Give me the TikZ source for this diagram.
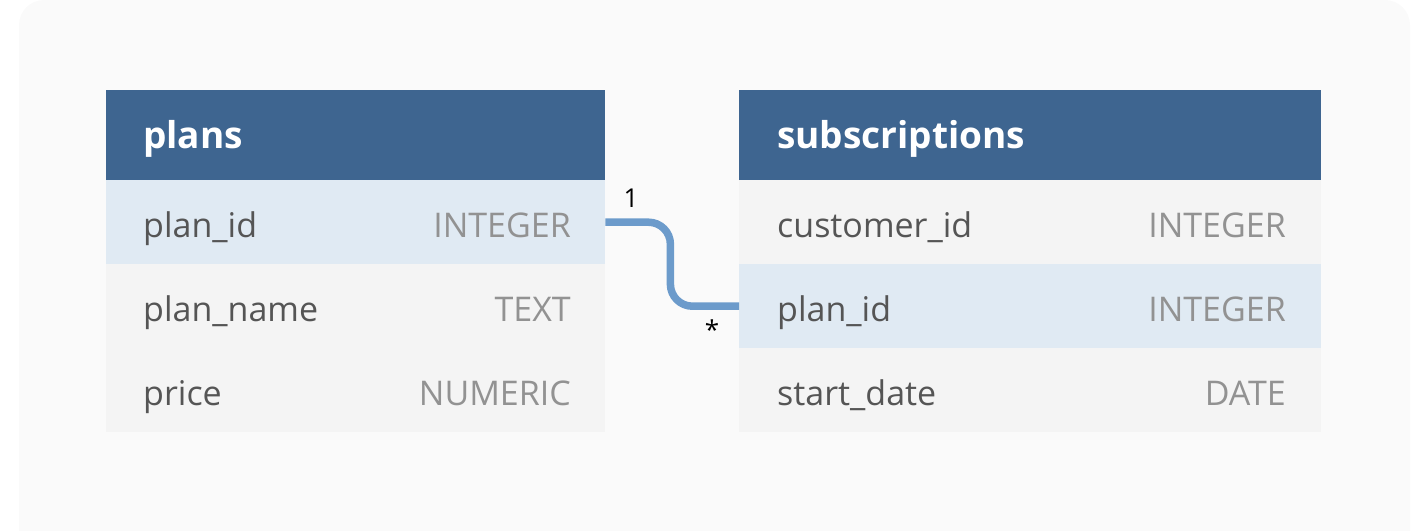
\documentclass[tikz,border=0pt]{standalone}
\usepackage{fontspec}
\setmainfont{Open Sans}
\definecolor{hdr}{HTML}{3E6590}
\definecolor{hl}{HTML}{E0EAF3}
\definecolor{rowc}{HTML}{F4F4F4}
\definecolor{bgc}{HTML}{FAFAFA}
\definecolor{namec}{HTML}{555555}
\definecolor{typec}{HTML}{929292}
\definecolor{linkc}{HTML}{6C9BCB}
\begin{document}
\begin{tikzpicture}[x=1pt,y=-1pt,
  hdrbox/.style={draw=none,fill=hdr,rectangle,inner sep=0pt,anchor=north west,minimum height=90pt},
  rowbox/.style={draw=none,fill=rowc,rectangle,inner sep=0pt,anchor=north west,minimum height=84pt},
  hlbox/.style={rowbox,fill=hl},
  title/.style={anchor=base west,inner sep=0pt,text=white,font=\fontsize{37}{40}\selectfont\bfseries},
  fname/.style={anchor=base west,inner sep=0pt,text=namec,font=\fontsize{34}{38}\selectfont},
  ftype/.style={anchor=base east,inner sep=0pt,text=typec,font=\fontsize{34}{38}\selectfont},
  card/.style={inner sep=0pt,text=black,font=\fontsize{26}{28}\selectfont},
  link/.style={draw=linkc,line width=7.5pt,rounded corners=22pt}]
\useasboundingbox (0,0) rectangle (1418,530);
\fill[bgc,rounded corners=25pt] (19,0) rectangle (1410,560);
% plans table
\node[hdrbox,minimum width=499pt] (ph) at (106,90) {};
\node[hlbox,minimum width=499pt] (p1) at (106,180) {};
\node[rowbox,minimum width=499pt] (p2) at (106,264) {};
\node[rowbox,minimum width=499pt] (p3) at (106,348) {};
\node[title] (pt) at (143,148) {plans};
\node[fname] (p1n) at (143,237) {plan\_id};
\node[ftype] (p1t) at (571,237) {INTEGER};
\node[fname] (p2n) at (143,321) {plan\_name};
\node[ftype] (p2t) at (571,321) {TEXT};
\node[fname] (p3n) at (143,405) {price};
\node[ftype] (p3t) at (571,405) {NUMERIC};
% subscriptions table
\node[hdrbox,minimum width=582pt] (sh) at (739,90) {};
\node[rowbox,minimum width=582pt] (s1) at (739,180) {};
\node[hlbox,minimum width=582pt] (s2) at (739,264) {};
\node[rowbox,minimum width=582pt] (s3) at (739,348) {};
\node[title] (st) at (777,148) {subscriptions};
\node[fname] (s1n) at (777,237) {customer\_id};
\node[ftype] (s1t) at (1286,237) {INTEGER};
\node[fname] (s2n) at (777,321) {plan\_id};
\node[ftype] (s2t) at (1286,321) {INTEGER};
\node[fname] (s3n) at (777,405) {start\_date};
\node[ftype] (s3t) at (1286,405) {DATE};
% relation
\draw[link] (p1.east) -- ++(65,0) |- (s2.west);
\node[card] (c1) at (631,198) {1};
\node[card] (c2) at (712,330) {*};
\end{tikzpicture}
\end{document}
